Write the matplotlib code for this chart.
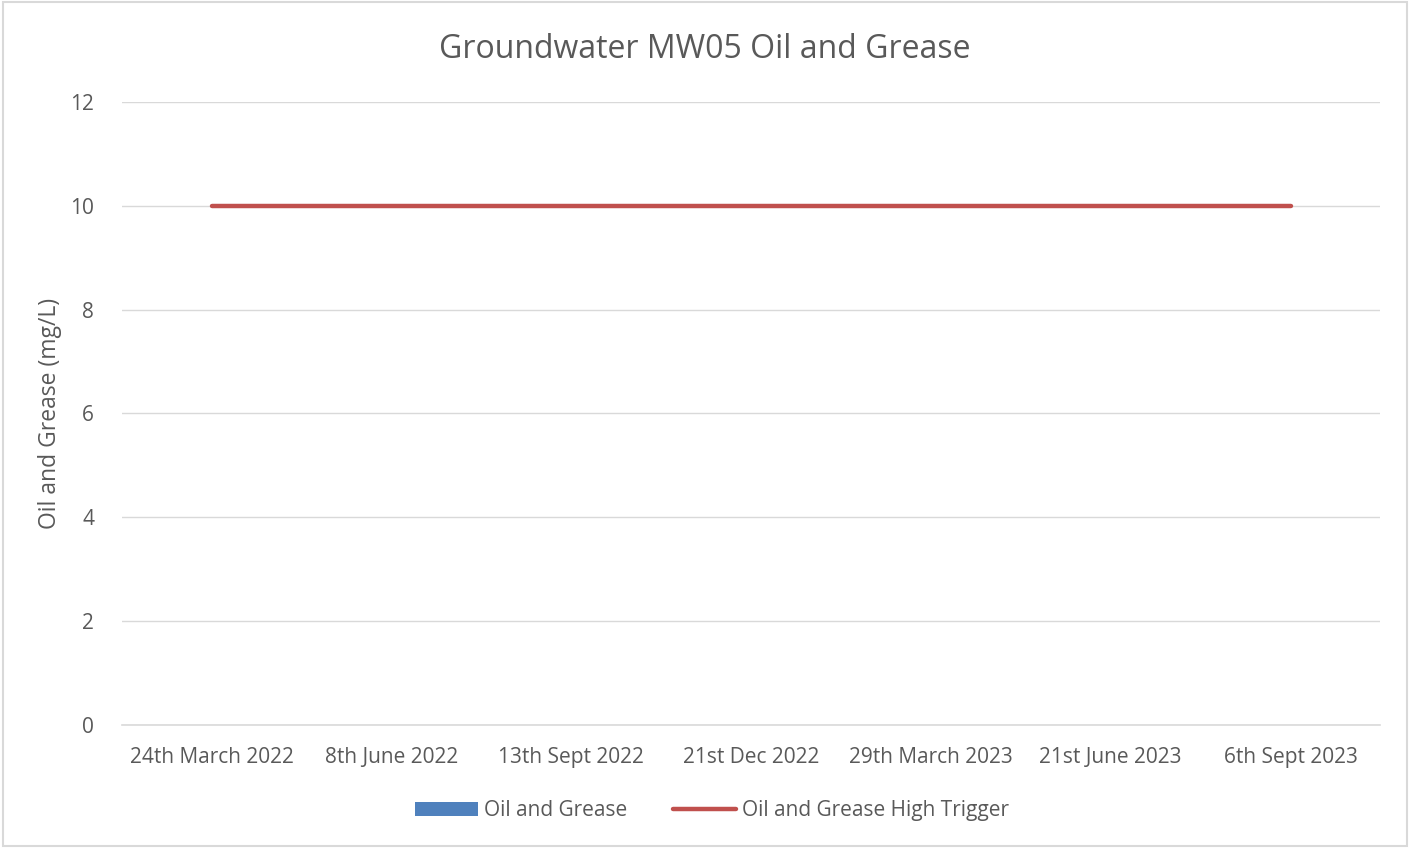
import matplotlib.pyplot as plt
from matplotlib.patches import Rectangle

plt.rcParams['font.family'] = ['Liberation Sans Narrow', 'Open Sans', 'DejaVu Sans']

# sampling rounds and results
dates = ["24th March 2022", "8th June 2022", "13th Sept 2022", "21st Dec 2022",
         "29th March 2023", "21st June 2023", "6th Sept 2023"]
oil_grease = [0, 0, 0, 0, 0, 0, 0]
high_trigger = [10, 10, 10, 10, 10, 10, 10]

TXT = "#595959"
GRID = "#d9d9d9"

fig = plt.figure(figsize=(14.1, 8.48), dpi=100)
fig.patches.append(Rectangle((0.002, 0.002), 0.996, 0.996, transform=fig.transFigure,
                             fill=False, edgecolor="#d9d9d9", linewidth=1.5))
ax = fig.add_axes([0.0865, 0.145, 0.8925, 0.735])

x = range(len(dates))
bars = ax.bar(x, oil_grease, width=0.5, color="#4f81bd", label="Oil and Grease", zorder=2)
line, = ax.plot(x, high_trigger, color="#c0504d", linewidth=3.2, solid_capstyle="round",
                label="Oil and Grease High Trigger", zorder=3)

ax.set_xlim(-0.5, len(dates) - 0.5)
ax.set_ylim(0, 12)
ax.set_yticks(range(0, 13, 2))
ax.set_xticks(list(x))
ax.set_xticklabels(dates)
ax.yaxis.grid(True, color=GRID, linewidth=1)
ax.axhline(0, color=GRID, linewidth=1.2, zorder=1, clip_on=False)
ax.set_axisbelow(True)
for s in ax.spines.values():
    s.set_visible(False)
ax.tick_params(length=0, labelsize=15, colors=TXT)
ax.tick_params(axis="x", pad=16)
ax.tick_params(axis="y", pad=20)

ax.set_ylabel("Oil and Grease (mg/L)", fontsize=16.5, color=TXT, labelpad=6)
fig.suptitle("Groundwater MW05 Oil and Grease", fontsize=23, color=TXT, y=0.961)

leg = fig.legend([bars, line], ["Oil and Grease", "Oil and Grease High Trigger"],
                 loc="center", bbox_to_anchor=(0.505, 0.044), ncol=2, frameon=False,
                 fontsize=15, handlelength=3.0, handletextpad=0.3, columnspacing=2.2)
for t in leg.get_texts():
    t.set_color(TXT)

fig.savefig("out.png", dpi=100)
